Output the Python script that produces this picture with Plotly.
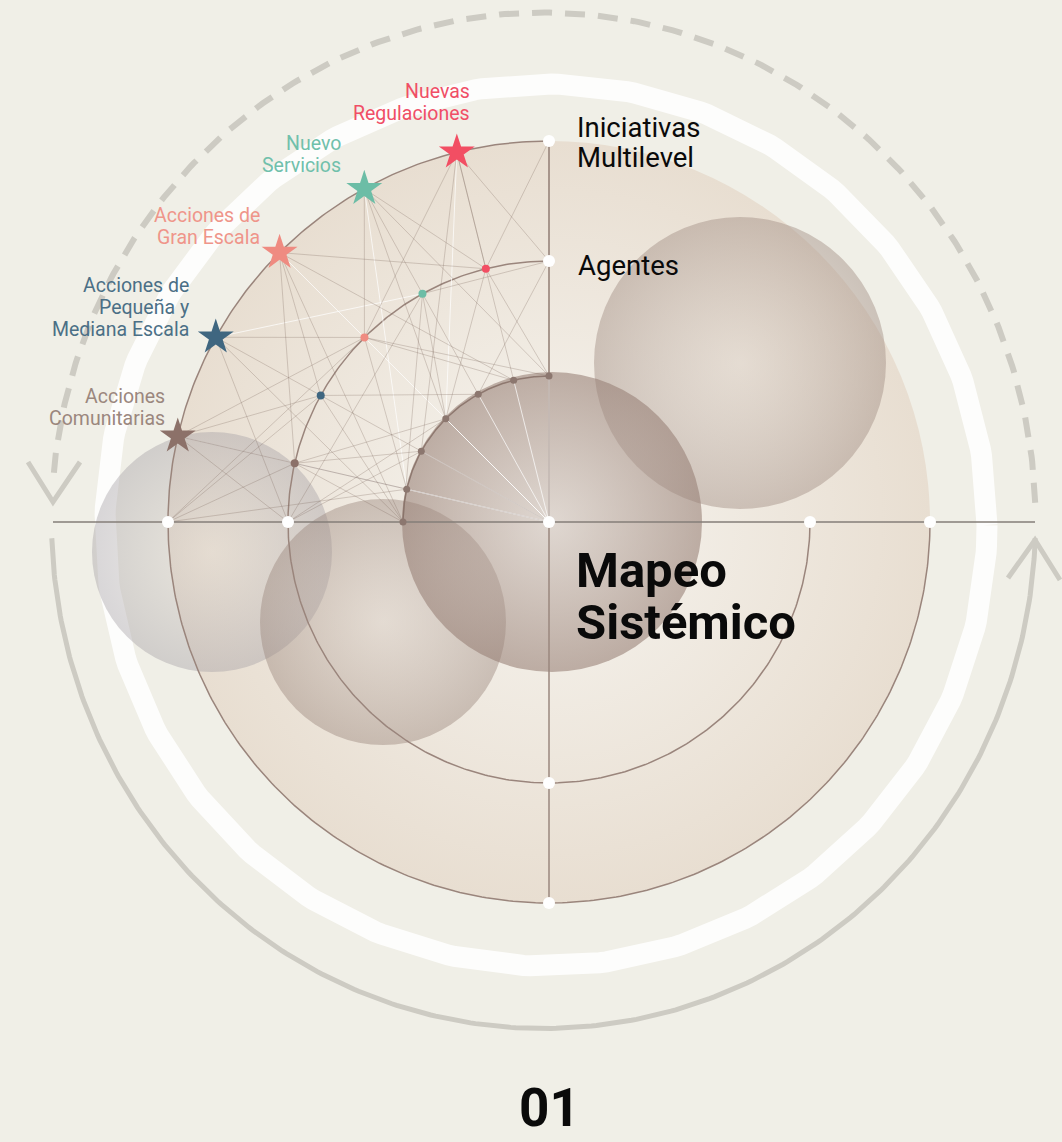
import numpy as np
import plotly.graph_objects as go

# ---------------- data ----------------
categories = ["Nuevas Regulaciones", "Nuevo Servicios", "Acciones de Gran Escala",
              "Acciones de Pequeña y Mediana Escala", "Acciones Comunitarias"]
category_label_lines = [["Nuevas", "Regulaciones"], ["Nuevo", "Servicios"],
                        ["Acciones de", "Gran Escala"],
                        ["Acciones de", "Pequeña y", "Mediana Escala"],
                        ["Acciones", "Comunitarias"]]
category_angles = [104, 119, 135, 151, 167]          # degrees on the rings
category_colors = ["#f24e63", "#6cbda6", "#ef8b81", "#3f6680", "#8c7169"]
category_text_colors = ["#f04e66", "#70c0ab", "#ef958a", "#4b6f86", "#9b877e"]

ring_names = ["Mapeo Sistémico", "Agentes", "Iniciativas Multilevel"]
ring_radii = [146, 261, 381]
inner_dot_angles = [90, 104, 119, 135, 151, 167, 180]

# connections of the network (point ids)
gray_edges = [
    ("S0", "MT"), ("S0", "M0"), ("S0", "I1"), ("S0", "I4"), ("S0", "M2"),
    ("S1", "M1"), ("S1", "M0"), ("S1", "M2"), ("S1", "I0"), ("S1", "I3"),
    ("S2", "M0"), ("S2", "M4"), ("S2", "I1"), ("S2", "I6"), ("S2", "M3"),
    ("S3", "M2"), ("S3", "M3"), ("S3", "I6"), ("S3", "ML"),
    ("S4", "M4"), ("S4", "M3"), ("S4", "M2"), ("S4", "ML"), ("S4", "I5"),
    ("OT", "M0"), ("OT", "I0"),
    ("OL", "M4"), ("OL", "M2"), ("OL", "M3"), ("OL", "I5"),
    ("ML", "M1"), ("ML", "I4"), ("ML", "I3"),
    ("I6", "M4"), ("I6", "M3"), ("I6", "M1"),
    ("M4", "I4"), ("M4", "I3"), ("M4", "C"),
    ("M3", "I2"), ("M3", "C"),
    ("M2", "I1"), ("M2", "I0"), ("M2", "I5"),
    ("M1", "MT"), ("M1", "I3"), ("M1", "I2"),
    ("M0", "I0"), ("M0", "I3"), ("MT", "I2"),
]
white_edges = [
    ("C", "I0"), ("C", "I1"), ("C", "I2"), ("C", "I3"), ("C", "I4"), ("C", "I5"),
    ("S2", "C"), ("S1", "I5"), ("S3", "M1"), ("S4", "C"), ("S0", "I3"),
]

# ---------------- layout constants ----------------
W, H = 1062, 1142
CX, CY = 549, 522            # pixel position of diagram centre
BG = "#f0efe7"


def pol(r, deg):
    a = np.deg2rad(deg)
    return r * np.cos(a), r * np.sin(a)


def px(x, y):
    """pixel -> data coords (origin at centre, y up)"""
    return x - CX, CY - y


P = {}
for k, a in enumerate(category_angles):
    P[f"S{k}"] = pol(ring_radii[2], a)
    P[f"M{k}"] = pol(ring_radii[1], a)
for j, a in enumerate(inner_dot_angles):
    P[f"I{j}"] = pol(ring_radii[0], a)
P["OT"] = pol(ring_radii[2], 90)
P["OL"] = pol(ring_radii[2], 180)
P["MT"] = pol(ring_radii[1], 90)
P["ML"] = pol(ring_radii[1], 180)
P["C"] = (0.0, 0.0)

fig = go.Figure()


def line_trace(xs, ys, color, width, dash=None):
    fig.add_trace(go.Scatter(x=xs, y=ys, mode="lines", hoverinfo="skip",
                             line=dict(color=color, width=width, dash=dash)))


# ---- outer guide arcs (ellipse) ----
ecx, ecy = px(543.5, 520.5)
erx, ery = 492, 508
t = np.linspace(2, 176, 300)
line_trace(ecx + erx * np.cos(np.deg2rad(t)), ecy + ery * np.sin(np.deg2rad(t)),
           "#cdcbc3", 6, dash="20px,13px")
t = np.linspace(182, 358, 300)
line_trace(ecx + erx * np.cos(np.deg2rad(t)), ecy + ery * np.sin(np.deg2rad(t)),
           "#cdcbc3", 5)
# arrow heads
ax_ = [px(28, 462), px(53, 502), px(80, 462)]
line_trace([p[0] for p in ax_], [p[1] for p in ax_], "#cdcbc3", 5)
ax_ = [px(1008, 578), px(1035, 540), px(1060, 580)]
line_trace([p[0] for p in ax_], [p[1] for p in ax_], "#cdcbc3", 5)

# ---- white ring ----
rcx, rcy = px(546, 525)
t = np.linspace(0, 360, 400)
line_trace(rcx + 441 * np.cos(np.deg2rad(t)), rcy + 441 * np.sin(np.deg2rad(t)),
           "rgba(255,255,255,0.85)", 21)


# ---- disk + spheres (radial gradients) ----
def sphere(xp, yp, r, edge, centre):
    x, y = px(xp, yp)
    fig.add_trace(go.Scatter(
        x=[x], y=[y], mode="markers", hoverinfo="skip",
        marker=dict(size=2 * r, color=edge, line=dict(width=0),
                    gradient=dict(type="radial", color=centre))))


sphere(CX, CY, ring_radii[2], "rgb(232,222,209)", "rgb(247,245,240)")
sphere(212, 552, 120, "rgba(165,160,165,0.42)", "rgba(220,212,204,0.35)")
sphere(383, 622, 123, "rgba(155,135,125,0.45)", "rgba(205,192,184,0.35)")
sphere(740, 363, 146, "rgba(160,140,130,0.45)", "rgba(210,198,190,0.32)")
sphere(552, 522, 150, "rgba(150,126,116,0.58)", "rgba(200,186,178,0.5)")

# ---- axes lines ----
a, b = px(53, CY), px(1035, CY)
line_trace([a[0], b[0]], [0, 0], "#857e79", 1.5)
line_trace([0, 0], [ring_radii[2], -ring_radii[2]], "#9a877e", 1.5)

# ---- ring arcs ----
t = np.linspace(90, 360, 400)
for r in ring_radii[1:]:
    line_trace(r * np.cos(np.deg2rad(t)), r * np.sin(np.deg2rad(t)), "#9a857c", 1.5)
t = np.linspace(90, 180, 200)
line_trace(ring_radii[0] * np.cos(np.deg2rad(t)), ring_radii[0] * np.sin(np.deg2rad(t)),
           "#8e786f", 1.5)


# ---- network ----
def edges_xy(edges):
    xs, ys = [], []
    for p, q in edges:
        xs += [P[p][0], P[q][0], None]
        ys += [P[p][1], P[q][1], None]
    return xs, ys


xs, ys = edges_xy(white_edges)
line_trace(xs, ys, "rgba(255,255,255,0.7)", 1)
xs, ys = edges_xy(gray_edges)
line_trace(xs, ys, "rgba(125,105,95,0.32)", 0.9)

# ---- dots ----
ix = [P[f"I{j}"][0] for j in range(len(inner_dot_angles))]
iy = [P[f"I{j}"][1] for j in range(len(inner_dot_angles))]
fig.add_trace(go.Scatter(x=ix, y=iy, mode="markers", hoverinfo="skip",
                         marker=dict(size=7, color="#8c776f")))
fig.add_trace(go.Scatter(x=[P[f"M{k}"][0] for k in range(5)],
                         y=[P[f"M{k}"][1] for k in range(5)],
                         mode="markers", hoverinfo="skip",
                         marker=dict(size=8, color=category_colors)))
fig.add_trace(go.Scatter(x=[P[f"S{k}"][0] for k in range(5)],
                         y=[P[f"S{k}"][1] for k in range(5)],
                         mode="markers", hoverinfo="skip", text=categories,
                         marker=dict(symbol="star", size=27, color=category_colors,
                                     line=dict(width=0))))
wx, wy = [0.0], [0.0]
for r in ring_radii[1:]:
    for ang in (0, 90, 180, 270):
        x, y = pol(r, ang)
        wx.append(x)
        wy.append(y)
fig.add_trace(go.Scatter(x=wx, y=wy, mode="markers", hoverinfo="skip",
                         marker=dict(size=12, color="white")))

# ---- text ----
label_right_px = [(472, 91), (343, 143), (262, 215), (191, 285), (167, 396)]
LINE_H = 22
ann = []
for k, lines in enumerate(category_label_lines):
    xr, y0 = label_right_px[k]
    for i, txt in enumerate(lines):
        x, y = px(xr, y0 + i * LINE_H)
        ann.append(dict(x=x, y=y, text=txt, xanchor="right", yanchor="middle",
                        showarrow=False,
                        font=dict(family="Roboto", size=19.5,
                                  color=category_text_colors[k])))


def add_text(txt, xp, yp, size, anchor="left", yanchor="middle", bold=False):
    x, y = px(xp, yp)
    ann.append(dict(x=x, y=y, text=f"<b>{txt}</b>" if bold else txt,
                    xanchor=anchor, yanchor=yanchor, showarrow=False,
                    font=dict(family="Roboto", size=size, color="#0a0a0a")))


add_text("Iniciativas", 575, 127, 27.5)
add_text("Multilevel", 575, 157, 27.5)
add_text("Agentes", 576, 265, 27.5)
add_text("Mapeo", 574, 570, 49, bold=True)
add_text("Sistémico", 574, 622, 49, bold=True)
add_text("01", 549, 1141, 53, anchor="center", yanchor="bottom", bold=True)

fig.update_layout(
    width=W, height=H, margin=dict(l=0, r=0, t=0, b=0),
    paper_bgcolor=BG, plot_bgcolor=BG, showlegend=False, hovermode=False,
    xaxis=dict(range=[-CX, W - CX], visible=False, fixedrange=True),
    yaxis=dict(range=[CY - H, CY], visible=False, fixedrange=True),
    annotations=ann,
)

fig.write_html("out.html", config={"displayModeBar": False},
               post_script="document.body.style.margin='0';document.body.style.overflow='hidden';")
